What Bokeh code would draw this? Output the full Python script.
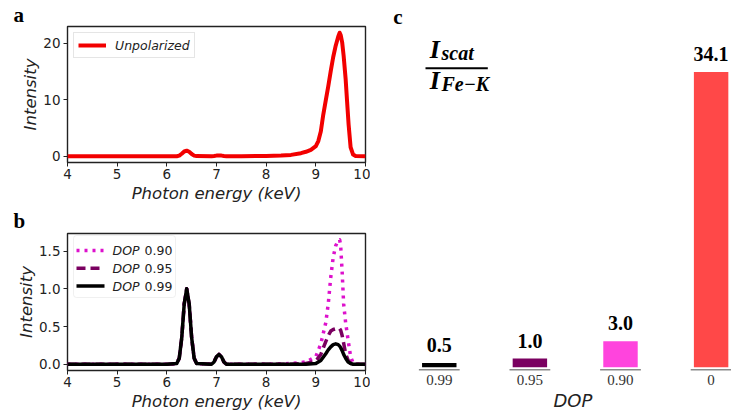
from bokeh.plotting import figure
from bokeh.layouts import row, column
from bokeh.models import (Range1d, FixedTicker, Label, BoxAnnotation, Arrow, Title,
                          Legend, LegendItem, ColumnDataSource, NumeralTickFormatter)
from bokeh.core.properties import value
from bokeh.embed import file_html
from bokeh.resources import INLINE

# ---------------- data ----------------
# (a) unpolarized excitation spectrum
energy_a = [4.0, 6.0, 6.2, 6.25, 6.3, 6.35, 6.4, 6.45, 6.5, 6.55, 6.6, 6.9, 6.95, 7.0,
            7.05, 7.1, 7.15, 7.2, 7.5, 8.0, 8.3, 8.5, 8.7, 8.8, 8.9, 9.0, 9.05, 9.1,
            9.15, 9.2, 9.25, 9.3, 9.35, 9.4, 9.45, 9.48, 9.5, 9.53, 9.56, 9.6, 9.63,
            9.66, 9.7, 9.75, 9.8, 10.0]
unpolarized = [0.0, 0.0, 0.02, 0.12, 0.45, 0.85, 1.0, 0.8, 0.4, 0.12, 0.03, 0.02, 0.06, 0.12,
               0.15, 0.12, 0.05, 0.02, 0.02, 0.06, 0.14, 0.25, 0.55, 0.8, 1.15, 1.8, 2.7, 4.4,
               7.4, 9.9, 12.4, 15.1, 17.6, 19.6, 21.2, 21.9, 21.5, 20.2, 17.8, 13.7, 9.6,
               5.6, 1.6, 0.3, 0.05, 0.0]

# (b) partially polarized excitation, three degrees of polarization
energy_b = [4.0, 6.0, 6.2, 6.25, 6.3, 6.35, 6.4, 6.45, 6.5, 6.55, 6.6, 6.9, 6.95, 7.0,
            7.05, 7.1, 7.15, 7.2, 8.0, 8.5, 8.8, 9.0, 9.1, 9.2, 9.25, 9.3, 9.35, 9.4,
            9.45, 9.48, 9.5, 9.53, 9.56, 9.6, 9.65, 9.7, 9.75, 9.8, 10.0]
dop_090 = [0.0, 0.0, 0.01, 0.08, 0.35, 0.8, 1.0, 0.8, 0.35, 0.08, 0.01, 0.0, 0.03, 0.1,
           0.13, 0.1, 0.03, 0.0, 0.0, 0.01, 0.03, 0.1, 0.27, 0.55, 0.8, 1.15, 1.42, 1.57,
           1.64, 1.65, 1.57, 1.22, 0.8, 0.55, 0.32, 0.1, 0.02, 0.0, 0.0]
dop_095 = [0.0, 0.0, 0.01, 0.08, 0.35, 0.8, 1.0, 0.8, 0.35, 0.08, 0.01, 0.0, 0.03, 0.1,
           0.13, 0.1, 0.03, 0.0, 0.0, 0.0, 0.01, 0.04, 0.13, 0.3, 0.38, 0.44, 0.46, 0.47,
           0.48, 0.47, 0.45, 0.38, 0.28, 0.14, 0.05, 0.01, 0.0, 0.0, 0.0]
dop_099 = [0.0, 0.0, 0.01, 0.08, 0.35, 0.8, 1.0, 0.8, 0.35, 0.08, 0.01, 0.0, 0.03, 0.1,
           0.13, 0.1, 0.03, 0.0, 0.0, 0.0, 0.0, 0.01, 0.05, 0.14, 0.19, 0.23, 0.26, 0.27,
           0.26, 0.24, 0.22, 0.18, 0.13, 0.08, 0.03, 0.01, 0.0, 0.0, 0.0]

# (c) scatter / Fe-K ratio per degree of polarization
dop_labels = ["0.99", "0.95", "0.90", "0"]
ratio = [0.5, 1.0, 3.0, 34.1]

energy_ticks = [4, 5, 6, 7, 8, 9, 10]
ticks_a = [0, 10, 20]
ticks_b = [0.0, 0.5, 1.0, 1.5]

# ---------------- styling ----------------
SANS = "DejaVu Sans"
SERIF = "Liberation Serif"
INK = "#222222"
RED = "#f20000"
MAGENTA = "#dd11cc"
PURPLE = "#7a0060"
BAR_COLORS = ["#000000", PURPLE, "#ff44dd", "#ff4848"]


def style_spectrum(p, yticks):
    p.outline_line_color = INK
    p.outline_line_width = 1.4
    p.xgrid.visible = False
    p.ygrid.visible = False
    for ax in (p.xaxis[0], p.yaxis[0]):
        ax.axis_line_color = None
        ax.major_tick_line_color = INK
        ax.major_tick_out = 4
        ax.major_tick_in = 0
        ax.minor_tick_line_color = None
        ax.major_label_text_font = SANS
        ax.major_label_text_font_size = "13.5px"
        ax.major_label_text_color = INK
        ax.axis_label_text_font = SANS
        ax.axis_label_text_font_size = "16.5px"
        ax.axis_label_text_font_style = "italic"
        ax.axis_label_text_color = INK
    p.xaxis.ticker = FixedTicker(ticks=energy_ticks)
    p.yaxis.ticker = FixedTicker(ticks=yticks)
    p.xaxis.major_label_standoff = 2
    p.xaxis.axis_label_standoff = 2
    p.yaxis.major_label_standoff = 3
    p.yaxis.axis_label_standoff = 0
    p.xaxis.axis_label = "Photon energy (keV)"
    p.yaxis.axis_label = "Intensity"


def panel_letter(p, text, offset, standoff=0):
    t = p.title
    t.text = text
    t.align = "left"
    t.offset = offset
    t.standoff = standoff
    t.text_font = SERIF
    t.text_font_size = "21px"
    t.text_font_style = "bold"
    t.text_color = "black"


# ---------------- (a) ----------------
pa = figure(width=370, height=205, x_range=Range1d(4, 10), y_range=Range1d(-1.1, 23.0),
            output_backend="svg", toolbar_location=None,
            min_border_left=67, min_border_right=5, min_border_top=25, min_border_bottom=43)
style_spectrum(pa, ticks_a)
line_a = pa.line(energy_a, unpolarized, line_color=RED, line_width=4, line_join="round")
legend_a = Legend(items=[LegendItem(label="Unpolarized", renderers=[line_a])],
                  location="top_left", margin=6, padding=4, spacing=0,
                  glyph_width=28, glyph_height=16, label_height=16, label_standoff=9,
                  label_text_font=SANS, label_text_font_size="12.5px",
                  label_text_font_style="italic", label_text_color=INK,
                  border_line_color="#cccccc", border_line_width=1,
                  background_fill_alpha=0.8)
pa.add_layout(legend_a)
panel_letter(pa, "a", -54)

# ---------------- (b) ----------------
pb = figure(width=370, height=209, x_range=Range1d(4, 10), y_range=Range1d(-0.083, 1.733),
            output_backend="svg", toolbar_location=None,
            min_border_left=67, min_border_right=5, min_border_top=27, min_border_bottom=44)
style_spectrum(pb, ticks_b)
pb.yaxis.formatter = NumeralTickFormatter(format="0.0")

series_b = [
    (dop_090, MAGENTA, "3 5", "0.90"),
    (dop_095, PURPLE, "9 5", "0.95"),
    (dop_099, "black", "solid", "0.99"),
]
for vals, color, dash, _ in series_b:
    pb.line(energy_b, vals, line_color=color, line_width=3.5, line_dash=dash,
            line_join="round")

# legend with an italic "DOP" followed by the upright value
pb.add_layout(BoxAnnotation(left=6, right=108, bottom=73, top=135,
                            left_units="screen", right_units="screen",
                            bottom_units="screen", top_units="screen",
                            fill_color="white", fill_alpha=0.8,
                            line_color="#cccccc", line_width=1, border_radius=3))
for k, (_, color, dash, lab) in enumerate(series_b):
    yrow = 120 - 17.8 * k
    pb.add_layout(Arrow(end=None, x_start=9, y_start=yrow, x_end=37, y_end=yrow,
                        start_units="screen", end_units="screen",
                        line_color=color, line_width=3.5, line_dash=dash))
    pb.add_layout(Label(x=45, y=yrow, x_units="screen", y_units="screen", text="DOP",
                        text_font=SANS, text_font_size="12.5px", text_font_style="italic",
                        text_color=INK, text_baseline="middle"))
    pb.add_layout(Label(x=77, y=yrow, x_units="screen", y_units="screen", text=lab,
                        text_font=SANS, text_font_size="12.5px",
                        text_color=INK, text_baseline="middle"))
panel_letter(pb, "b", -54, 2)

# ---------------- (c) ----------------
pc = figure(width=361, height=414, x_range=Range1d(-0.759, 3.225),
            y_range=Range1d(-0.38, 38.79), y_axis_type=None,
            output_backend="svg", toolbar_location=None,
            min_border_left=0, min_border_right=0, min_border_top=30, min_border_bottom=44)
pc.outline_line_color = None
pc.xgrid.visible = False
pc.ygrid.visible = False

idx = list(range(len(dop_labels)))
src_c = ColumnDataSource(dict(x=idx, top=ratio, color=BAR_COLORS,
                              label=[f"{v:.1f}" for v in ratio]))
pc.vbar(x="x", top="top", bottom=0, width=0.38, fill_color="color", line_color=None,
        source=src_c)
pc.segment(x0=[i - 0.225 for i in idx], x1=[i + 0.225 for i in idx],
           y0=[-0.33] * len(idx), y1=[-0.33] * len(idx),
           line_color="#8a8a8a", line_width=2)
pc.text(x="x", y="top", text="label", source=src_c, text_align="center",
        text_baseline="bottom", y_offset=-11, text_font=value(SERIF),
        text_font_style="bold", text_font_size="20px", text_color="black")

xa = pc.xaxis[0]
xa.ticker = FixedTicker(ticks=idx)
xa.major_label_overrides = {i: lab for i, lab in enumerate(dop_labels)}
xa.axis_line_color = None
xa.major_tick_line_color = None
xa.major_tick_out = 0
xa.minor_tick_line_color = None
xa.major_label_standoff = 4
xa.major_label_text_font = SERIF
xa.major_label_text_font_size = "15px"
xa.major_label_text_color = "#333333"

# axis title for the bar panel, set right of centre
pc.add_layout(Title(text="DOP", align="left", offset=183, standoff=0,
                    text_font=SANS, text_font_size="18px", text_font_style="italic",
                    text_color=INK), "below")

# ratio symbol I_scat / I_Fe-K
frac_font = dict(x_units="screen", y_units="screen", text_font=SERIF,
                 text_font_style="bold italic", text_color="black",
                 text_baseline="alphabetic")
pc.add_layout(Label(x=59.3, y=321.3, text="I", text_font_size="26px", **frac_font))
pc.add_layout(Label(x=71, y=317.3, text="scat", text_font_size="20px", **frac_font))
pc.add_layout(BoxAnnotation(left=55, right=117.3, bottom=301.3, top=303.3,
                            left_units="screen", right_units="screen",
                            bottom_units="screen", top_units="screen",
                            fill_color="black", fill_alpha=1, line_color=None))
pc.add_layout(Label(x=59.3, y=289.7, text="I", text_font_size="26px", **frac_font))
pc.add_layout(Label(x=71, y=286.3, text="Fe\u2212K", text_font_size="20px", **frac_font))
panel_letter(pc, "c", 22.7, 5)

layout = row(column(pa, pb), pc)
open("out.html", "w").write(file_html(layout, INLINE))
